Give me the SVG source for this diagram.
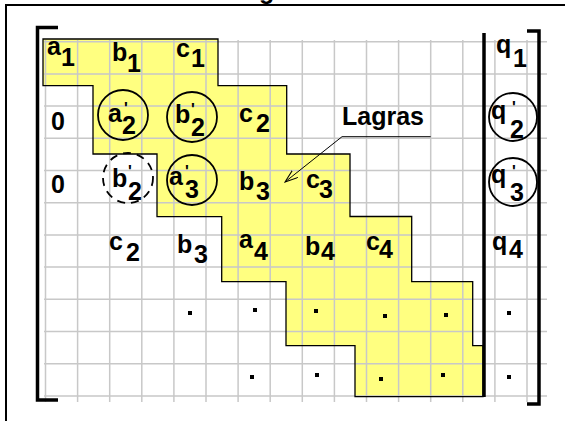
<svg xmlns="http://www.w3.org/2000/svg" width="565" height="421" viewBox="0 0 565 421">
<style>
.t{font-family:"Liberation Sans",Arial,sans-serif;font-weight:bold;font-size:25px;fill:#000}
.p{font-size:16px}
.grid{stroke:#c8c8c8;stroke-width:1.5;fill:none}
.circ{fill:none;stroke:#000;stroke-width:1.8}
.br{fill:none;stroke:#000;stroke-width:3.5}
</style>
<defs>
<marker id="ah" markerWidth="14" markerHeight="10" refX="13" refY="5" orient="auto" markerUnits="userSpaceOnUse">
<path d="M0,0.5 L13,5 L0,9.5" fill="none" stroke="#000" stroke-width="1"/>
</marker>
</defs>
<rect width="565" height="421" fill="#fff"/>
<text class="t" x="259" y="-1" font-size="20">g</text>
<path d="M6,421 V5 H565" fill="none" stroke="#000" stroke-width="2"/>
<polygon id="band" points="43,39 218,39 218,85.7 286.7,85.7 286.7,154 350,154 350,216.5 411.7,216.5 411.7,281.7 472.7,281.7 472.7,345.7 483,345.7 483,396.7 355,396.7 355,345.7 286,345.7 286,281.7 221.7,281.7 221.7,216.7 157,216.7 157,154 93,154 93,85.7 43,85.7" fill="#ffff80"/>
<path class="grid" d="M45.5,40V402M77.6,40V402M109.7,40V402M141.8,40V402M173.9,40V402M206,40V402M238.1,40V402M270.2,40V402M302.3,40V402M334.4,40V402M366.5,40V402M398.6,40V402M430.7,40V402M462.8,40V402M494.9,40V402M527,40V402M44,41.7H547M44,73.9H547M44,106.1H547M44,138.3H547M44,170.5H547M44,202.7H547M44,234.9H547M44,267.1H547M44,299.3H547M44,331.5H547M44,363.7H547M44,395.9H547"/>
<polygon points="43,39 218,39 218,85.7 286.7,85.7 286.7,154 350,154 350,216.5 411.7,216.5 411.7,281.7 472.7,281.7 472.7,345.7 483,345.7 483,396.7 355,396.7 355,345.7 286,345.7 286,281.7 221.7,281.7 221.7,216.7 157,216.7 157,154 93,154 93,85.7 43,85.7" fill="none" stroke="#000" stroke-width="1.3"/>
<g id="brackets">
<path class="br" d="M58,27.5 H37.5 V400 H58"/>
<path class="br" d="M527,31 H539 V404 H527"/>
<path class="br" d="M484,33 V397"/>
</g>
<g id="row1">
<g id="a1"><text class="t"><tspan x="47" y="55">a</tspan><tspan x="61" y="66">1</tspan></text></g>
<g id="b1"><text class="t"><tspan x="112" y="61">b</tspan><tspan x="127" y="72">1</tspan></text></g>
<g id="c1"><text class="t"><tspan x="176" y="57">c</tspan><tspan x="191" y="67">1</tspan></text></g>
<g id="q1"><text class="t"><tspan x="496" y="53">q</tspan><tspan x="513" y="67">1</tspan></text></g>
</g>
<g id="row2">
<g id="zero2"><text class="t" x="51" y="130">0</text></g>
<g id="a2p"><circle class="circ" cx="123" cy="115" r="25"/><text class="t"><tspan x="108" y="122">a</tspan><tspan class="p" x="124" y="114">'</tspan><tspan x="122" y="134">2</tspan></text></g>
<g id="b2p"><circle class="circ" cx="192" cy="117" r="25"/><text class="t"><tspan x="175" y="123">b</tspan><tspan class="p" x="191" y="115">'</tspan><tspan x="191" y="136">2</tspan></text></g>
<g id="c2"><text class="t"><tspan x="239" y="122">c</tspan><tspan x="256" y="132">2</tspan></text></g>
<g id="q2p"><circle class="circ" cx="513" cy="117" r="24"/><text class="t"><tspan x="491" y="119">q</tspan><tspan class="p" x="512" y="113">'</tspan><tspan x="510" y="138">2</tspan></text></g>
</g>
<g id="row3">
<g id="zero3"><text class="t" x="51" y="193">0</text></g>
<g id="b2d"><circle class="circ" cx="128" cy="178" r="25" stroke-dasharray="8,6"/><text class="t"><tspan x="112" y="187">b</tspan><tspan class="p" x="128" y="177">'</tspan><tspan x="128" y="200">2</tspan></text></g>
<g id="a3p"><circle class="circ" cx="192" cy="180" r="25"/><text class="t"><tspan x="169" y="185">a</tspan><tspan class="p" x="185" y="177">'</tspan><tspan x="185" y="198">3</tspan></text></g>
<g id="b3"><text class="t"><tspan x="239" y="190">b</tspan><tspan x="256" y="200">3</tspan></text></g>
<g id="c3"><text class="t"><tspan x="306" y="188">c</tspan><tspan x="319" y="198">3</tspan></text></g>
<g id="q3p"><circle class="circ" cx="513" cy="182" r="24"/><text class="t"><tspan x="491" y="183">q</tspan><tspan class="p" x="512" y="177">'</tspan><tspan x="510" y="201">3</tspan></text></g>
</g>
<g id="row4">
<g id="c2r"><text class="t"><tspan x="109" y="250">c</tspan><tspan x="126" y="261">2</tspan></text></g>
<g id="b3r"><text class="t"><tspan x="177" y="253">b</tspan><tspan x="194" y="263">3</tspan></text></g>
<g id="a4"><text class="t"><tspan x="239" y="248">a</tspan><tspan x="254" y="260">4</tspan></text></g>
<g id="b4"><text class="t"><tspan x="305" y="255">b</tspan><tspan x="321" y="260">4</tspan></text></g>
<g id="c4"><text class="t"><tspan x="366" y="250">c</tspan><tspan x="379" y="258">4</tspan></text></g>
<g id="q4"><text class="t"><tspan x="492" y="250">q</tspan><tspan x="509" y="258">4</tspan></text></g>
</g>
<g id="dots" fill="#000">
<rect x="188" y="311" width="4" height="4"/>
<rect x="253" y="308" width="4" height="4"/>
<rect x="314" y="309" width="4" height="4"/>
<rect x="383" y="314" width="4" height="4"/>
<rect x="444" y="313" width="4" height="4"/>
<rect x="507" y="311" width="4" height="4"/>
<rect x="250" y="375" width="4" height="4"/>
<rect x="315" y="373" width="4" height="4"/>
<rect x="379" y="377" width="4" height="4"/>
<rect x="441" y="373" width="4" height="4"/>
<rect x="507" y="375" width="4" height="4"/>
</g>
<g id="label-lagras"><text class="t" x="342" y="125" font-size="26">Lagras</text></g>
<g id="connectors">
<polyline points="430.7,136.7 342,136.7 285,182" fill="none" stroke="#000" stroke-width="1" marker-end="url(#ah)"/>
</g>
</svg>
